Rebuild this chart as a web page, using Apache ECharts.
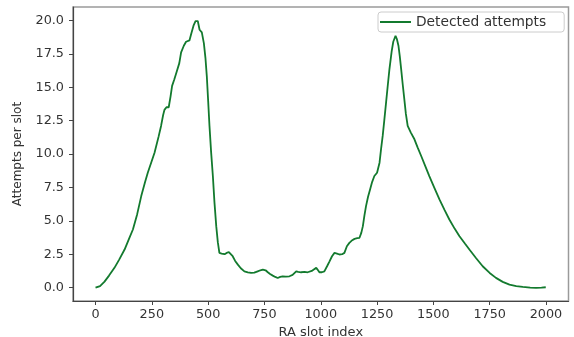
<!DOCTYPE html>
<html>
<head>
<meta charset="utf-8">
<script src="https://cdn.jsdelivr.net/npm/echarts@6/dist/echarts.min.js"></script>
<style>
  html, body { margin: 0; padding: 0; background: #ffffff; }
  #chart { width: 574px; height: 337px; }
</style>
</head>
<body>
<div id="chart"></div>
<script>
// RA slot index (x) and detected attempts per slot (y)
const slotIndex = [0, 20, 40, 60, 84, 105, 129, 150, 166, 185, 203, 220, 232, 250, 262, 280, 291, 300, 306, 315, 325, 333, 340, 350, 361, 372, 380, 392, 402, 417, 425, 435, 444, 454, 462, 472, 481, 488, 494, 500, 506, 513, 521, 528, 536, 543, 550, 560, 573, 582, 592, 600, 609, 620, 632, 645, 661, 676, 691, 705, 720, 732, 743, 755, 765, 775, 787, 798, 809, 820, 831, 845, 861, 875, 891, 900, 913, 928, 942, 960, 980, 988, 994, 1005, 1016, 1028, 1039, 1050, 1061, 1072, 1083, 1095, 1105, 1116, 1127, 1140, 1150, 1162, 1172, 1180, 1187, 1194, 1201, 1210, 1219, 1228, 1238, 1250, 1261, 1268, 1275, 1282, 1290, 1298, 1305, 1315, 1322, 1332, 1338, 1345, 1351, 1357, 1364, 1371, 1378, 1386, 1400, 1416, 1430, 1446, 1465, 1482, 1505, 1527, 1550, 1571, 1595, 1616, 1640, 1660, 1690, 1719, 1750, 1778, 1808, 1838, 1868, 1897, 1930, 1956, 1980, 1999];
const attempts = [0, 0.12, 0.45, 0.9, 1.48, 2.1, 2.85, 3.7, 4.35, 5.5, 6.85, 7.9, 8.6, 9.5, 10.1, 11.3, 12.1, 12.9, 13.3, 13.5, 13.5, 14.3, 15.1, 15.6, 16.2, 16.8, 17.6, 18.1, 18.4, 18.5, 19.0, 19.6, 19.95, 19.95, 19.3, 19.1, 18.3, 17.2, 15.85, 14.0, 12.1, 10.2, 8.35, 6.4, 4.6, 3.4, 2.6, 2.55, 2.5, 2.6, 2.65, 2.55, 2.35, 2.0, 1.72, 1.45, 1.22, 1.15, 1.1, 1.12, 1.22, 1.3, 1.35, 1.3, 1.15, 1.02, 0.9, 0.8, 0.72, 0.8, 0.85, 0.82, 0.85, 0.95, 1.22, 1.18, 1.15, 1.18, 1.15, 1.25, 1.48, 1.3, 1.15, 1.15, 1.22, 1.6, 1.97, 2.35, 2.6, 2.55, 2.48, 2.5, 2.6, 3.1, 3.35, 3.55, 3.65, 3.7, 3.73, 4.1, 4.6, 5.4, 6.1, 6.8, 7.35, 7.9, 8.35, 8.6, 9.35, 10.4, 11.35, 12.5, 13.85, 15.2, 16.35, 17.7, 18.4, 18.85, 18.6, 18.1, 17.3, 16.35, 15.2, 14.1, 13.0, 12.1, 11.6, 11.1, 10.5, 9.85, 9.05, 8.35, 7.45, 6.6, 5.8, 5.1, 4.4, 3.85, 3.3, 2.85, 2.2, 1.6, 1.1, 0.73, 0.43, 0.22, 0.11, 0.05, 0.0, -0.02, 0.0, 0.03];
const xTicks = [0, 250, 500, 750, 1000, 1250, 1500, 1750, 2000];
const yTicks = [0, 2.5, 5, 7.5, 10, 12.5, 15, 17.5, 20];
const seriesName = 'Detected attempts';

const points = slotIndex.map((x, i) => [x, attempts[i]]);

const chart = echarts.init(document.getElementById('chart'), null, { renderer: 'canvas' });
const font = 'DejaVu Sans';
chart.setOption({
  animation: false,
  backgroundColor: '#ffffff',
  grid: {
    left: 73, right: 5.5, top: 7, bottom: 36,
    outerBoundsMode: 'none', containLabel: false,
    show: true, borderColor: '#9a9a9a', borderWidth: 1.5
  },
  legend: {
    left: 378, top: 12,
    icon: 'rect', itemWidth: 31, itemHeight: 2, itemGap: 5,
    padding: [3, 18, 3, 2],
    borderColor: '#cccccc', borderWidth: 1, borderRadius: 3,
    backgroundColor: '#ffffff',
    textStyle: { fontFamily: font, fontSize: 13.8, color: '#333333' },
    data: [seriesName]
  },
  xAxis: {
    type: 'value', min: -100, max: 2100,
    name: 'RA slot index', nameLocation: 'middle', nameGap: 20,
    nameTextStyle: { fontFamily: font, fontSize: 13, color: '#333333' },
    axisLine: { onZero: false, lineStyle: { color: '#444444', width: 1.2 } },
    axisTick: { show: true, length: 4, customValues: xTicks, lineStyle: { color: '#444444' } },
    axisLabel: { customValues: xTicks, margin: 7, fontFamily: font, fontSize: 12.8, color: '#333333',
      formatter: v => String(v) },
    splitLine: { show: false }
  },
  yAxis: {
    type: 'value', min: -1, max: 21,
    name: 'Attempts per slot', nameLocation: 'middle', nameGap: 49, nameRotate: 90,
    nameTextStyle: { fontFamily: font, fontSize: 12, color: '#333333' },
    axisLine: { show: true, onZero: false, lineStyle: { color: '#444444', width: 1.2 } },
    axisTick: { show: true, length: 4, customValues: yTicks, lineStyle: { color: '#444444' } },
    axisLabel: { customValues: yTicks, margin: 9, fontFamily: font, fontSize: 12.8, color: '#333333',
      formatter: v => v.toFixed(1) },
    splitLine: { show: false }
  },
  series: [{
    name: seriesName,
    type: 'line',
    data: points,
    showSymbol: false,
    symbol: 'none',
    lineStyle: { color: '#137a2e', width: 1.8 },
    itemStyle: { color: '#137a2e' }
  }]
});
</script>
</body>
</html>
